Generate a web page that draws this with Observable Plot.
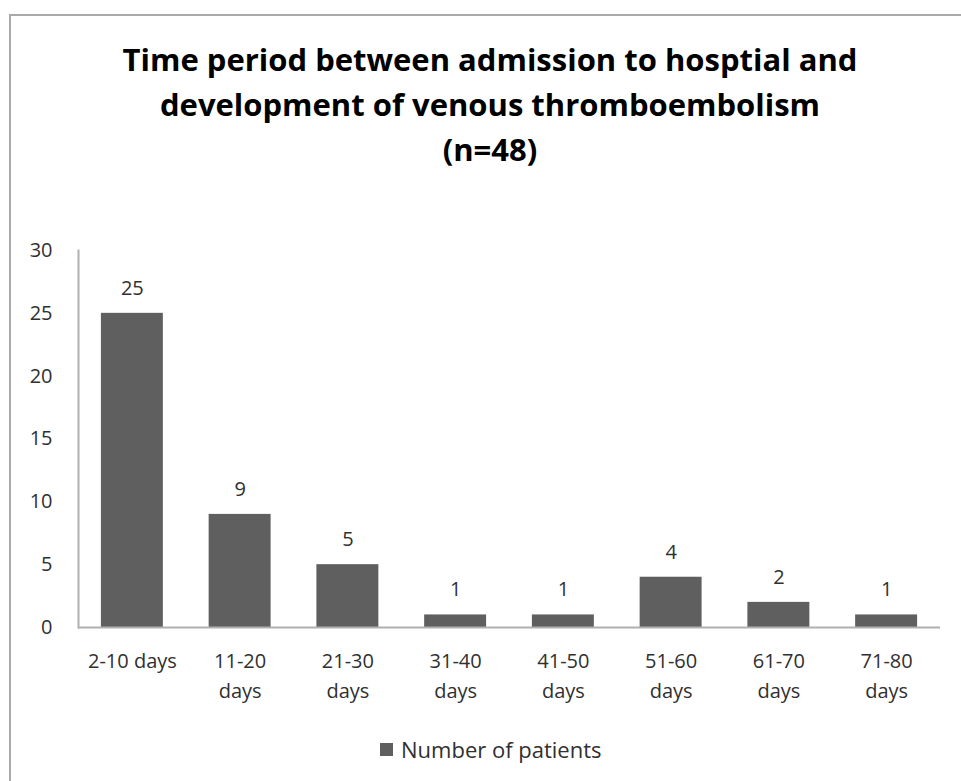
<!DOCTYPE html>
<html>
<head>
<meta charset="utf-8">
<script src="https://cdn.jsdelivr.net/npm/d3@7"></script>
<script src="https://cdn.jsdelivr.net/npm/@observablehq/plot@0.6"></script>
<style>
  html, body { margin: 0; padding: 0; background: #fff; width: 961px; height: 781px; overflow: hidden; }
  #frame { position: absolute; left: 9px; top: 14px; width: 1000px; height: 820px; border: 2px solid #a9a9a9; box-sizing: border-box; }
  #title { position: absolute; left: 0; top: 37px; width: 980px; text-align: center; font-family: "Open Sans", sans-serif; font-weight: bold; font-size: 31px; line-height: 45px; color: #000; }
  #chart { position: absolute; left: 0; top: 200px; }
  #legend { position: absolute; left: 380px; top: 734px; font-family: "Open Sans", sans-serif; font-size: 22px; color: #303030; display: flex; align-items: center; }
  #legend .sw { width: 13px; height: 13px; background: #5f5f5f; margin-right: 8px; }
</style>
</head>
<body>
<div id="frame"></div>
<div id="title">Time period between admission to hosptial and<br>development of venous thromboembolism<br>(n=48)</div>
<div id="chart"></div>
<div id="legend"><span class="sw"></span><span>Number of patients</span></div>
<script>
const categories = ["2-10 days", "11-20 days", "21-30 days", "31-40 days", "41-50 days", "51-60 days", "61-70 days", "71-80 days"];
const patients = [25, 9, 5, 1, 1, 4, 2, 1];
const yTicks = [0, 5, 10, 15, 20, 25, 30];
const seriesName = "Number of patients";

const data = categories.map((c, i) => ({category: c, value: patients[i]}));

const plot = Plot.plot({
  width: 961,
  height: 520,
  marginLeft: 78,
  marginRight: 21,
  marginTop: 50,
  marginBottom: 93,
  style: {fontFamily: "'Open Sans', sans-serif", fontSize: "20px", color: "#303030", background: "transparent"},
  x: {domain: categories, paddingInner: 0.425, paddingOuter: 0.2125, round: false, label: null},
  y: {domain: [0, 30], label: null},
  marks: [
    Plot.barY(data, {x: "category", y: "value", fill: "#5f5f5f"}),
    Plot.text(data, {x: "category", y: "value", text: d => String(d.value), dy: -25, fill: "#303030", fontSize: 20}),
    Plot.ruleY([0], {stroke: "#b0b0b0", strokeWidth: 2}),
    Plot.frame({anchor: "left", stroke: "#b0b0b0", strokeWidth: 2}),
    Plot.axisY({ticks: yTicks, tickSize: 0, tickPadding: 26, label: null, fontSize: 20, fill: "#303030"}),
    Plot.axisX({tickSize: 0, tickPadding: 19, label: null, fontSize: 20, fill: "#303030", lineHeight: 1.5,
      tickFormat: d => d === categories[0] ? d : d.replace(" ", "\n")})
  ]
});
document.getElementById("chart").appendChild(plot);
</script>
</body>
</html>
